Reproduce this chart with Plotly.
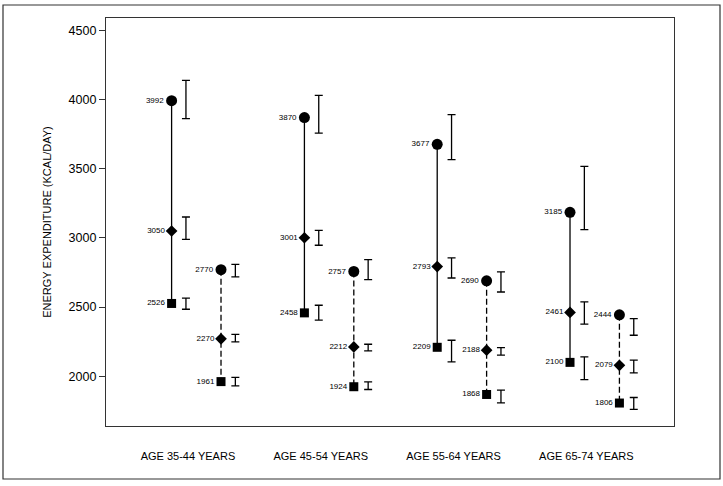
import plotly.graph_objects as go

# ---- data ----
groups = ["AGE 35-44 YEARS", "AGE 45-54 YEARS", "AGE 55-64 YEARS", "AGE 65-74 YEARS"]

# solid-line series (circle / diamond / square)
line1_top = [3992, 3870, 3677, 3185]
line1_mid = [3050, 3001, 2793, 2461]
line1_low = [2526, 2458, 2209, 2100]
# dashed-line series
line2_top = [2770, 2757, 2690, 2444]
line2_mid = [2270, 2212, 2188, 2079]
line2_low = [1961, 1924, 1868, 1806]

# interval bars drawn beside each point: (lower, upper)
line1_top_ci = [(3862, 4139), (3758, 4030), (3566, 3891), (3060, 3517)]
line1_mid_ci = [(2990, 3151), (2947, 3055), (2710, 2855), (2376, 2537)]
line1_low_ci = [(2484, 2564), (2405, 2513), (2104, 2260), (1976, 2140)]
line2_top_ci = [(2718, 2809), (2699, 2843), (2609, 2754), (2296, 2417)]
line2_mid_ci = [(2248, 2303), (2183, 2231), (2152, 2207), (2024, 2116)]
line2_low_ci = [(1930, 1991), (1904, 1959), (1807, 1899), (1760, 1846)]

y_ticks = [2000, 2500, 3000, 3500, 4000, 4500]

# ---- layout helpers ----
INK = "#000000"
FONT = "Arial, Liberation Sans, sans-serif"
off_solid = -0.123
off_dash = 0.249
off_bar = 0.108

fig = go.Figure()

series = [
    (line1_top, line1_mid, line1_low, [line1_top_ci, line1_mid_ci, line1_low_ci], off_solid, "solid"),
    (line2_top, line2_mid, line2_low, [line2_top_ci, line2_mid_ci, line2_low_ci], off_dash, "6px,3px"),
]

for top, mid, low, cis, off, dash in series:
    for i, g in enumerate(groups):
        xpos = i + 1 + off
        ys = [top[i], mid[i], low[i]]
        fig.add_trace(go.Scatter(
            x=[xpos] * 3, y=ys,
            mode="lines+markers+text",
            line=dict(color=INK, width=1.3, dash=dash),
            marker=dict(symbol=["circle", "diamond", "square"], size=[11, 9, 9],
                        color=INK, opacity=1, line=dict(width=0)),
            text=[str(v) for v in ys],
            textposition="middle left",
            textfont=dict(family=FONT, size=8, color=INK),
            showlegend=False, hoverinfo="skip",
        ))
        lows = [c[i][0] for c in cis]
        highs = [c[i][1] for c in cis]
        mids = [(a + b) / 2 for a, b in zip(lows, highs)]
        halves = [(b - a) / 2 for a, b in zip(lows, highs)]
        fig.add_trace(go.Scatter(
            x=[xpos + off_bar] * 3, y=mids,
            mode="markers",
            marker=dict(size=1, opacity=0, color=INK),
            error_y=dict(type="data", array=halves, symmetric=True,
                         color=INK, thickness=1.3, width=4),
            showlegend=False, hoverinfo="skip",
        ))

# outer frame around whole figure (paper coords relative to plot area)
L, R, T, B = 106, 49, 18, 60
W, H = 723, 486
pw, ph = W - L - R, H - T - B
def px_x(p):
    return (p - L) / pw
def px_y(p):
    return (H - B - p) / ph

fig.add_shape(type="rect", xref="paper", yref="paper",
              x0=px_x(3), x1=px_x(720), y0=px_y(479), y1=px_y(5),
              line=dict(color="#333333", width=1.2), layer="below")

fig.update_layout(
    width=W, height=H,
    margin=dict(l=L, r=R, t=T, b=B),
    paper_bgcolor="white", plot_bgcolor="white",
    font=dict(family=FONT, color=INK),
    xaxis=dict(
        range=[0.383, 4.66],
        tickvals=[1, 2, 3, 4], ticktext=groups,
        ticks="", showgrid=False, zeroline=False,
        showline=True, mirror=True, linecolor="#333333", linewidth=1.2,
        tickfont=dict(family=FONT, size=11, color=INK),
        ticklabelstandoff=20,
    ),
    yaxis=dict(
        range=[1640, 4590],
        tickvals=y_ticks,
        ticks="outside", ticklen=6, tickcolor="#333333",
        showgrid=False, zeroline=False,
        showline=True, mirror=True, linecolor="#333333", linewidth=1.2,
        tickfont=dict(family=FONT, size=12.5, color=INK),
        title=dict(text="ENERGY EXPENDITURE (KCAL/DAY)",
                   font=dict(family=FONT, size=11, color=INK), standoff=14),
    ),
)

fig.write_html("out.html")
